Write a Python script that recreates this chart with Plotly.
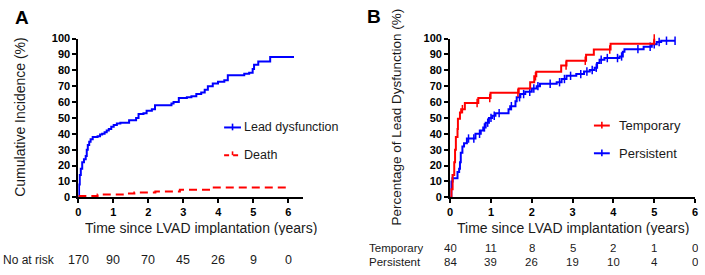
import numpy as np
import plotly.graph_objects as go

# ---------------- data ----------------
# Panel A: cumulative incidence (%)
lead_t = [0, 0.02, 0.04, 0.07, 0.11, 0.16, 0.21, 0.24, 0.27, 0.31, 0.35, 0.41, 0.55, 0.62, 0.68,
          0.75, 0.81, 0.87, 0.94, 1.01, 1.10, 1.20, 1.45, 1.65, 1.72, 1.86, 1.95, 2.10, 2.19,
          2.66, 2.72, 2.87, 3.10, 3.23, 3.37, 3.51, 3.61, 3.70, 3.84, 3.99, 4.17, 4.27, 4.74,
          4.88, 4.98, 5.02, 5.14, 5.48, 6.16]
lead_y = [0, 8, 14, 18, 22, 24, 26, 30, 33, 35, 36.5, 38, 38.5, 39.5, 40,
          41, 42, 43, 44.5, 45.5, 46.5, 47, 48.5, 50, 52.5, 53, 54.5, 55.5, 58,
          59, 60, 62.6, 63, 63.6, 65, 66, 67.7, 70, 71.7, 72.7, 73.7, 76.8, 77.8,
          78.4, 80.8, 83.5, 85.5, 88.3, 88.3]
death_t = [0, 0.55, 1.30, 1.60, 2.20, 2.90, 3.80, 6.00]
death_y = [0.8, 1.8, 2.3, 3.0, 3.6, 4.8, 6.2, 6.2]

risk_years = [0, 1, 2, 3, 4, 5, 6]
risk_A = [170, 90, 70, 45, 26, 9, 0]

# Panel B: percentage of lead dysfunction (%)
temp_t = [0, 0.03, 0.06, 0.10, 0.12, 0.14, 0.18, 0.19, 0.24, 0.27, 0.36, 0.69, 0.99, 1.68,
          1.96, 2.06, 2.11, 2.72, 2.85, 3.33, 3.52, 3.93, 5.00]
temp_y = [0, 5, 14, 22, 30, 38, 43, 49.4, 53.4, 55.5, 59.4, 62.5, 65.9, 68.5,
          72.5, 76.2, 79, 83, 86, 89.7, 93.1, 96.7, 100]
temp_cens = [0.30, 0.66, 0.97, 1.66, 2.09, 2.84, 3.31, 3.91, 5.00]

pers_t = [0, 0.03, 0.056, 0.18, 0.22, 0.24, 0.26, 0.30, 0.34, 0.41, 0.62, 0.75, 0.81, 0.87,
          0.95, 1.03, 1.11, 1.43, 1.47, 1.60, 1.63, 1.72, 1.84, 2.00, 2.12, 2.20, 2.61, 2.73,
          2.85, 3.09, 3.28, 3.42, 3.54, 3.60, 3.66, 3.78, 4.15, 4.23, 4.27, 4.74, 4.94, 5.06,
          5.17, 5.51]
pers_y = [0, 10, 12, 16, 18, 22, 28, 32, 34, 37, 40, 42, 44, 47,
          50, 51.4, 53, 55.5, 57.4, 60.5, 63, 65, 66.5, 68.5, 70, 71.5, 72.5, 74.5,
          76.5, 77.6, 79.2, 80.2, 81.6, 84.6, 86.6, 87.7, 88.7, 91.7, 93.3, 94.8, 96.4, 97.8,
          98.6, 98.6]
pers_cens = [0.06, 0.45, 0.58, 0.72, 0.84, 0.92, 1.00, 1.08, 1.20, 1.50, 1.70, 1.80, 1.95, 2.05,
             2.15, 2.45, 2.68, 2.80, 2.95, 3.20, 3.35, 3.48, 3.58, 3.70, 3.85, 4.10, 4.20, 4.60,
             4.90, 5.00, 5.12, 5.30, 5.51]

risk_B_temp = [40, 11, 8, 5, 2, 1, 0]
risk_B_pers = [84, 39, 26, 19, 10, 4, 0]

BLUE = "#0000ff"
RED = "#ff0000"
FONT = "Liberation Sans, Arial, sans-serif"
W, H = 705, 275


def step_val(ts, ys, q):
    idx = np.searchsorted(np.array(ts), q, side="right") - 1
    return [ys[max(i, 0)] for i in idx]


def px(x):
    return x / W


def py(y):
    return 1 - y / H


fig = go.Figure()

# Panel A
fig.add_trace(go.Scatter(x=lead_t, y=lead_y, mode="lines", line=dict(color=BLUE, width=2, shape="hv"),
                         xaxis="x", yaxis="y", showlegend=False, cliponaxis=False))
fig.add_trace(go.Scatter(x=death_t, y=death_y, mode="lines",
                         line=dict(color=RED, width=2, shape="hv", dash="8px,5px"),
                         xaxis="x", yaxis="y", showlegend=False, cliponaxis=False))

# Panel B
fig.add_trace(go.Scatter(x=pers_t, y=pers_y, mode="lines", line=dict(color=BLUE, width=2, shape="hv"),
                         xaxis="x2", yaxis="y2", showlegend=False, cliponaxis=False))
fig.add_trace(go.Scatter(x=pers_cens, y=step_val(pers_t, pers_y, pers_cens), mode="markers",
                         marker=dict(symbol="line-ns", size=6, line=dict(color=BLUE, width=1.5)),
                         xaxis="x2", yaxis="y2", showlegend=False, cliponaxis=False))
fig.add_trace(go.Scatter(x=temp_t, y=temp_y, mode="lines", line=dict(color=RED, width=2, shape="hv"),
                         xaxis="x2", yaxis="y2", showlegend=False, cliponaxis=False))
fig.add_trace(go.Scatter(x=temp_cens, y=step_val(temp_t, temp_y, temp_cens), mode="markers",
                         marker=dict(symbol="line-ns", size=6, line=dict(color=RED, width=1.5)),
                         xaxis="x2", yaxis="y2", showlegend=False, cliponaxis=False))

axis_common = dict(showline=True, linecolor="black", linewidth=2, ticks="outside", ticklen=4,
                   tickwidth=2, tickcolor="black", showgrid=False, zeroline=False,
                   tickfont=dict(family=FONT, size=11, color="black", weight="bold"))

ydom = [py(200), py(34)]
fig.update_layout(
    width=W, height=H, margin=dict(l=0, r=0, t=0, b=0),
    paper_bgcolor="white", plot_bgcolor="white",
    xaxis=dict(domain=[px(76), px(303)], range=[0, 6.43], tickvals=risk_years, anchor="y", **axis_common),
    yaxis=dict(domain=ydom, range=[0, 100], dtick=10, anchor="x", **axis_common),
    xaxis2=dict(domain=[px(451), px(698)], range=[0, 6], tickvals=risk_years, anchor="y2", **axis_common),
    yaxis2=dict(domain=ydom, range=[0, 100], dtick=10, anchor="x2", **axis_common),
)

ann = []
TXT = "#1a1a1a"
PAD = 3  # annotation inner offset compensation (px)


def text(x, y, s, size=13, xanchor="center", xref="paper", angle=0, bold=False, color=TXT, height=None):
    d = dict(x=x, y=y, xref=xref, yref="paper", text=s, showarrow=False, xanchor=xanchor,
             yanchor="middle", textangle=angle, borderpad=0,
             font=dict(family=FONT, size=size, color=color, weight="bold" if bold else "normal"))
    if height:
        d["height"] = height
    ann.append(d)


# panel labels
text(px(19), py(12), "A", size=19, bold=True, color="black")
text(px(374), py(11), "B", size=19, bold=True, color="black")
# axis titles
text(px(17), py(116), "Cumulative Incidence (%)", size=14, angle=-90)
text(px(397), py(116), "Percentage of Lead Dysfunction (%)", size=13.5, angle=-90)
text(px(200), py(232.5), "Time since LVAD implantation (years)", size=14, height=14)
text(px(575), py(232.5), "Time since LVAD implantation (years)", size=14, height=14)
# at-risk rows
text(px(2 - PAD), py(266), "No at risk", size=12, xanchor="left", height=12)
for yr, n in zip(risk_years, risk_A):
    text(yr, py(266), str(n), size=12.5, xref="x", height=12)
text(px(371 - PAD), py(253.5), "Temporary", size=11.5, xanchor="left", height=12)
text(px(371 - PAD), py(267.5), "Persistent", size=11.5, xanchor="left", height=12)
for yr, a, b in zip(risk_years, risk_B_temp, risk_B_pers):
    text(yr, py(253.5), str(a), size=11.5, xref="x2", height=12)
    text(yr, py(267.5), str(b), size=11.5, xref="x2", height=12)
# legends
text(px(245 - PAD), py(127), "Lead dysfunction", size=12.5, xanchor="left")
text(px(245 - PAD), py(156), "Death", size=12.5, xanchor="left")
text(px(623 - PAD), py(125), "Temporary", size=13, xanchor="left")
text(px(623 - PAD), py(154), "Persistent", size=13, xanchor="left")
fig.update_layout(annotations=ann)

shapes = []


def swatch(x0, x1, y, color, dash="solid"):
    shapes.append(dict(type="line", xref="paper", yref="paper", x0=px(x0), x1=px(x1), y0=py(y), y1=py(y),
                       line=dict(color=color, width=2, dash=dash)))
    xm = (x0 + x1) / 2
    shapes.append(dict(type="line", xref="paper", yref="paper", x0=px(xm), x1=px(xm), y0=py(y - 4),
                       y1=py(y + (0 if dash != "solid" else 3)), line=dict(color=color, width=1.6)))


swatch(223, 240, 127, BLUE)
swatch(223, 240, 156, RED, dash="5px,4px")
swatch(596, 612, 125, RED)
swatch(596, 612, 154, BLUE)
fig.update_layout(shapes=shapes)

fig.write_html("out.html")
